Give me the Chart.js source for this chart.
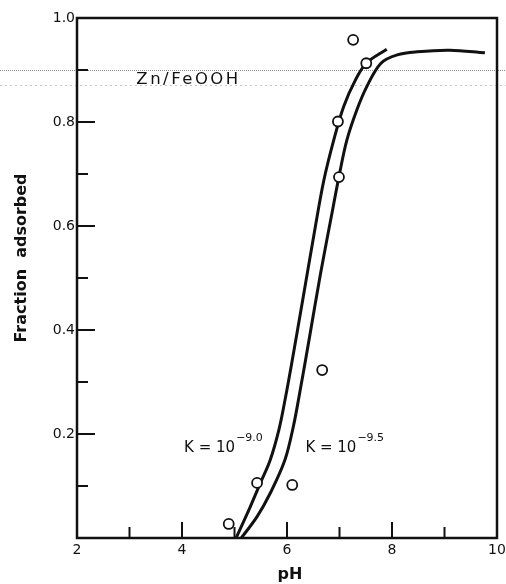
<!DOCTYPE html>
<html>
<head>
<meta charset="utf-8">
<script src="https://cdn.jsdelivr.net/npm/chart.js@4.4.0/dist/chart.umd.min.js"></script>
<style>
  html, body { margin: 0; padding: 0; background: #fff; }
</style>
</head>
<body>
<canvas id="chart" width="506" height="584"></canvas>
<script>
// measured points (open circles)
const pointPH   = [4.89, 5.43, 6.10, 6.67, 6.99, 6.97, 7.26, 7.51];
const pointFrac = [0.027, 0.106, 0.102, 0.323, 0.694, 0.801, 0.958, 0.913];

// model curve K = 10^-9.0
const curveA_PH   = [5.03, 5.30, 5.49, 5.68, 5.85, 5.98, 6.10, 6.30, 6.52, 6.70, 6.89, 7.08, 7.30, 7.51, 7.90];
const curveA_Frac = [0.0, 0.060, 0.105, 0.150, 0.210, 0.275, 0.342, 0.458, 0.587, 0.687, 0.765, 0.830, 0.880, 0.913, 0.940];

// model curve K = 10^-9.5
const curveB_PH   = [5.13, 5.43, 5.68, 5.96, 6.12, 6.24, 6.42, 6.64, 6.88, 6.99, 7.14, 7.33, 7.52, 7.79, 8.10, 8.48, 9.10, 9.77];
const curveB_Frac = [0.0, 0.041, 0.086, 0.150, 0.214, 0.278, 0.381, 0.509, 0.637, 0.695, 0.765, 0.823, 0.868, 0.913, 0.929, 0.935, 0.938, 0.933];

// axis ticks
const xLabelTicks = [2, 4, 6, 8, 10];
const xMarkTicks  = [3, 4, 5, 6, 7, 8, 9];
const yLabelTicks = [0.2, 0.4, 0.6, 0.8, 1.0];
const yMarkTicks  = [0.1, 0.2, 0.3, 0.4, 0.5, 0.6, 0.7, 0.8, 0.9];

const ink = '#111';
const font = '"DejaVu Sans", sans-serif';

const toXY = (xs, ys) => xs.map((x, i) => ({ x: x, y: ys[i] }));

// frame, inward ticks, scan lines and labels
const decor = {
  id: 'decor',
  beforeDraw(chart) {
    const ctx = chart.ctx;
    ctx.save();
    ctx.lineWidth = 1;
    ctx.strokeStyle = 'rgba(0,0,0,0.45)';
    ctx.setLineDash([1, 1]);
    ctx.beginPath(); ctx.moveTo(0, 70.5); ctx.lineTo(506, 70.5); ctx.stroke();
    ctx.strokeStyle = 'rgba(0,0,0,0.22)';
    ctx.setLineDash([2, 3]);
    ctx.beginPath(); ctx.moveTo(0, 85.5); ctx.lineTo(506, 85.5); ctx.stroke();
    ctx.restore();
  },
  afterDraw(chart) {
    const ctx = chart.ctx;
    const a = chart.chartArea;
    const xs = chart.scales.x, ys = chart.scales.y;
    ctx.save();
    ctx.strokeStyle = ink;
    ctx.fillStyle = ink;
    ctx.lineWidth = 2.5;
    ctx.strokeRect(a.left, a.top, a.right - a.left, a.bottom - a.top);

    ctx.lineWidth = 2;
    xMarkTicks.forEach(v => {
      const px = xs.getPixelForValue(v);
      const len = v % 2 === 0 ? 16 : 11;
      ctx.beginPath(); ctx.moveTo(px, a.bottom); ctx.lineTo(px, a.bottom - len); ctx.stroke();
    });
    yMarkTicks.forEach((v, i) => {
      const py = ys.getPixelForValue(v);
      const len = i % 2 === 1 ? 18 : 11;
      ctx.beginPath(); ctx.moveTo(a.left, py); ctx.lineTo(a.left + len, py); ctx.stroke();
    });

    // annotations
    ctx.textBaseline = 'alphabetic';
    ctx.textAlign = 'left';
    ctx.font = '16.5px ' + font;
    ctx.letterSpacing = '2.5px';
    ctx.fillText('Zn/FeOOH', xs.getPixelForValue(3.13), ys.getPixelForValue(0.885) + 6);
    ctx.letterSpacing = '0px';

    const kLabel = (ph, frac, exp) => {
      const x0 = xs.getPixelForValue(ph);
      const y0 = ys.getPixelForValue(frac);
      ctx.font = '15px ' + font;
      ctx.fillText('K = 10', x0, y0);
      const w = ctx.measureText('K = 10').width;
      ctx.font = '11px ' + font;
      ctx.fillText(exp, x0 + w + 1, y0 - 11);
    };
    kLabel(4.04, 0.165, '\u22129.0');
    kLabel(6.35, 0.165, '\u22129.5');

    // axis titles
    ctx.font = 'bold 16px ' + font;
    ctx.textAlign = 'center';
    ctx.fillText('pH', 290, 579);
    ctx.translate(26, 258);
    ctx.rotate(-Math.PI / 2);
    ctx.fillText('Fraction  adsorbed', 0, 0);
    ctx.restore();
  }
};

new Chart(document.getElementById('chart'), {
  type: 'scatter',
  data: {
    datasets: [
      {
        label: 'K = 10^-9.0',
        data: toXY(curveA_PH, curveA_Frac),
        showLine: true,
        borderColor: ink,
        borderWidth: 3,
        pointRadius: 0,
        tension: 0.35,
        order: 2
      },
      {
        label: 'K = 10^-9.5',
        data: toXY(curveB_PH, curveB_Frac),
        showLine: true,
        borderColor: ink,
        borderWidth: 3,
        pointRadius: 0,
        tension: 0.35,
        order: 2
      },
      {
        label: 'Zn/FeOOH',
        data: toXY(pointPH, pointFrac),
        showLine: false,
        pointStyle: 'circle',
        pointRadius: 5,
        pointBorderWidth: 1.8,
        pointBorderColor: ink,
        pointBackgroundColor: '#fff',
        order: 1
      }
    ]
  },
  options: {
    responsive: false,
    animation: false,
    layout: { padding: { top: 18, right: 9, left: 0, bottom: 0 } },
    plugins: {
      legend: { display: false },
      tooltip: { enabled: false }
    },
    scales: {
      x: {
        type: 'linear',
        min: 2,
        max: 10,
        afterFit: s => { s.height = 46; s.paddingLeft = 0; s.paddingRight = 0; },
        afterBuildTicks: s => { s.ticks = xLabelTicks.map(v => ({ value: v })); },
        grid: { display: false, drawTicks: false },
        border: { display: false },
        ticks: { color: ink, padding: 4, font: { family: font, size: 14 } }
      },
      y: {
        type: 'linear',
        min: 0,
        max: 1,
        afterFit: s => { s.width = 77; s.paddingTop = 0; s.paddingBottom = 0; },
        afterBuildTicks: s => { s.ticks = yLabelTicks.map(v => ({ value: v })); },
        grid: { display: false, drawTicks: false },
        border: { display: false },
        ticks: {
          color: ink,
          padding: 2,
          font: { family: font, size: 14 },
          callback: v => v.toFixed(1)
        }
      }
    }
  },
  plugins: [decor]
});
</script>
</body>
</html>
